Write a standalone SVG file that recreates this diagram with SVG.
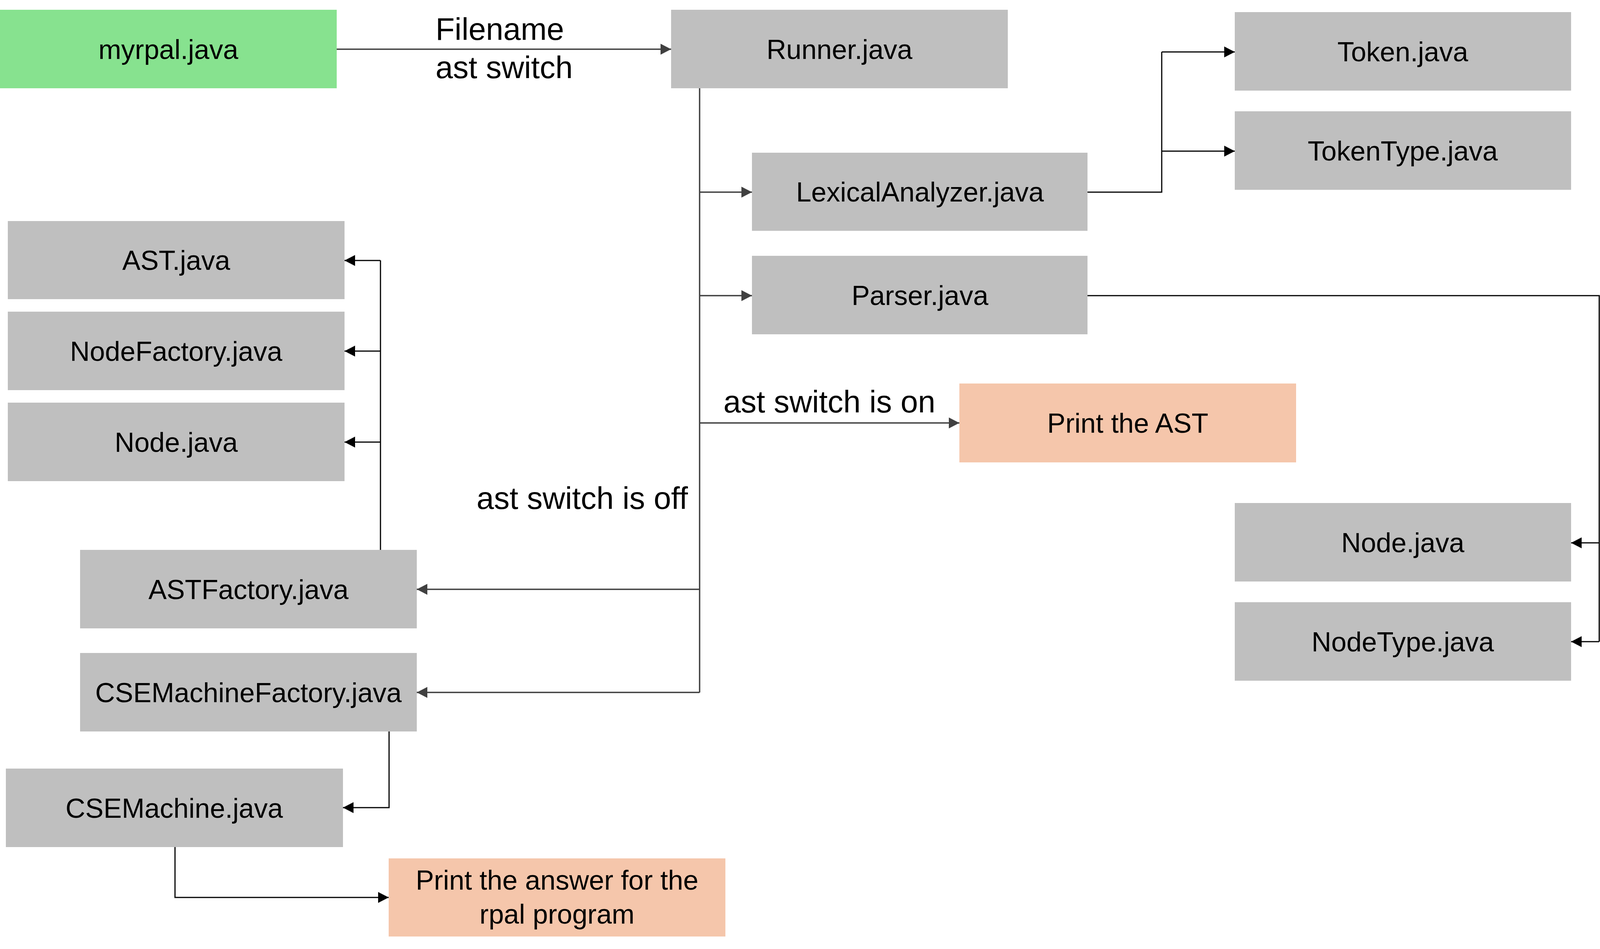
<svg xmlns="http://www.w3.org/2000/svg" width="4107" height="2430" viewBox="0 0 4107 2430">
<style>
.gray{fill:#BFBFBF}
.green{fill:#87E28F}
.salmon{fill:#F5C6AB}
.t{font-family:"Liberation Sans",Arial,sans-serif;font-size:70px;fill:#000;text-anchor:middle}
.lbl{font-family:"Liberation Sans",Arial,sans-serif;font-size:80px;fill:#000}
.cg{fill:none;stroke:#404040;stroke-width:3.5;marker-end:url(#ag)}
.cgn{fill:none;stroke:#404040;stroke-width:3.5}
.cb{fill:none;stroke:#000;stroke-width:3;marker-end:url(#ab)}
.cbn{fill:none;stroke:#000;stroke-width:3}
</style>
<defs>
<marker id="ag" markerUnits="userSpaceOnUse" markerWidth="27" markerHeight="28" refX="27" refY="14" orient="auto" viewBox="0 0 27 28"><path d="M0,0 L27,14 L0,28 z" fill="#404040"/></marker>
<marker id="ab" markerUnits="userSpaceOnUse" markerWidth="27" markerHeight="28" refX="27" refY="14" orient="auto" viewBox="0 0 27 28"><path d="M0,0 L27,14 L0,28 z" fill="#000"/></marker>
</defs>
<rect width="4107" height="2430" fill="#fff"/>

<g id="connectors">
<path class="cg" d="M862,126 H1718"/>
<path class="cgn" d="M1791,226 V1773"/>
<path class="cg" d="M1791,492 H1925"/>
<path class="cg" d="M1791,757 H1925"/>
<path class="cg" d="M1791,1083 H2456"/>
<path class="cg" d="M1791,1509 H1067"/>
<path class="cg" d="M1791,1773 H1067"/>
<path class="cbn" d="M2784,492 H2974 V133"/>
<path class="cb" d="M2974,133 H3161"/>
<path class="cb" d="M2974,387 H3161"/>
<path class="cbn" d="M2784,757 H4094 V1643"/>
<path class="cb" d="M4094,1390 H4022"/>
<path class="cb" d="M4094,1643 H4022"/>
<path class="cbn" d="M974,1408 V667"/>
<path class="cb" d="M974,667 H882"/>
<path class="cb" d="M974,899 H882"/>
<path class="cb" d="M974,1132 H882"/>
<path class="cb" d="M996,1873 V2068 H878"/>
<path class="cb" d="M448,2169 V2298 H995"/>
<text class="lbl" x="1115" y="102">Filename</text>
<text class="lbl" x="1115" y="200">ast switch</text>
<text class="lbl" x="1852" y="1056">ast switch is on</text>
<text class="lbl" x="1220" y="1303">ast switch is off</text>
</g>

<g id="myrpal"><rect class="green" x="0" y="25" width="862" height="201"/><text class="t" x="431" y="151">myrpal.java</text></g>
<g id="runner"><rect class="gray" x="1718" y="25" width="862" height="201"/><text class="t" x="2149" y="151">Runner.java</text></g>
<g id="token"><rect class="gray" x="3161" y="31" width="861" height="201"/><text class="t" x="3591" y="157">Token.java</text></g>
<g id="tokentype"><rect class="gray" x="3161" y="285" width="861" height="201"/><text class="t" x="3591" y="411">TokenType.java</text></g>
<g id="lexical"><rect class="gray" x="1925" y="391" width="859" height="200"/><text class="t" x="2355" y="516">LexicalAnalyzer.java</text></g>
<g id="parser"><rect class="gray" x="1925" y="655" width="859" height="201"/><text class="t" x="2355" y="781">Parser.java</text></g>
<g id="printast"><rect class="salmon" x="2456" y="982" width="862" height="202"/><text class="t" x="2887" y="1108">Print the AST</text></g>
<g id="node-right"><rect class="gray" x="3161" y="1288" width="861" height="201"/><text class="t" x="3591" y="1414">Node.java</text></g>
<g id="nodetype"><rect class="gray" x="3161" y="1542" width="861" height="201"/><text class="t" x="3591" y="1668">NodeType.java</text></g>
<g id="ast"><rect class="gray" x="20" y="566" width="862" height="200"/><text class="t" x="451" y="691">AST.java</text></g>
<g id="nodefactory"><rect class="gray" x="20" y="798" width="862" height="201"/><text class="t" x="451" y="924">NodeFactory.java</text></g>
<g id="node-left"><rect class="gray" x="20" y="1031" width="862" height="201"/><text class="t" x="451" y="1157">Node.java</text></g>
<g id="astfactory"><rect class="gray" x="205" y="1408" width="862" height="201"/><text class="t" x="636" y="1534">ASTFactory.java</text></g>
<g id="csemachinefactory"><rect class="gray" x="205" y="1672" width="862" height="201"/><text class="t" x="636" y="1798">CSEMachineFactory.java</text></g>
<g id="csemachine"><rect class="gray" x="15" y="1968" width="863" height="201"/><text class="t" x="446" y="2094">CSEMachine.java</text></g>
<g id="printanswer"><rect class="salmon" x="995" y="2198" width="862" height="200"/><text class="t" x="1426" y="2278">Print the answer for the</text><text class="t" x="1426" y="2365">rpal program</text></g>
</svg>
